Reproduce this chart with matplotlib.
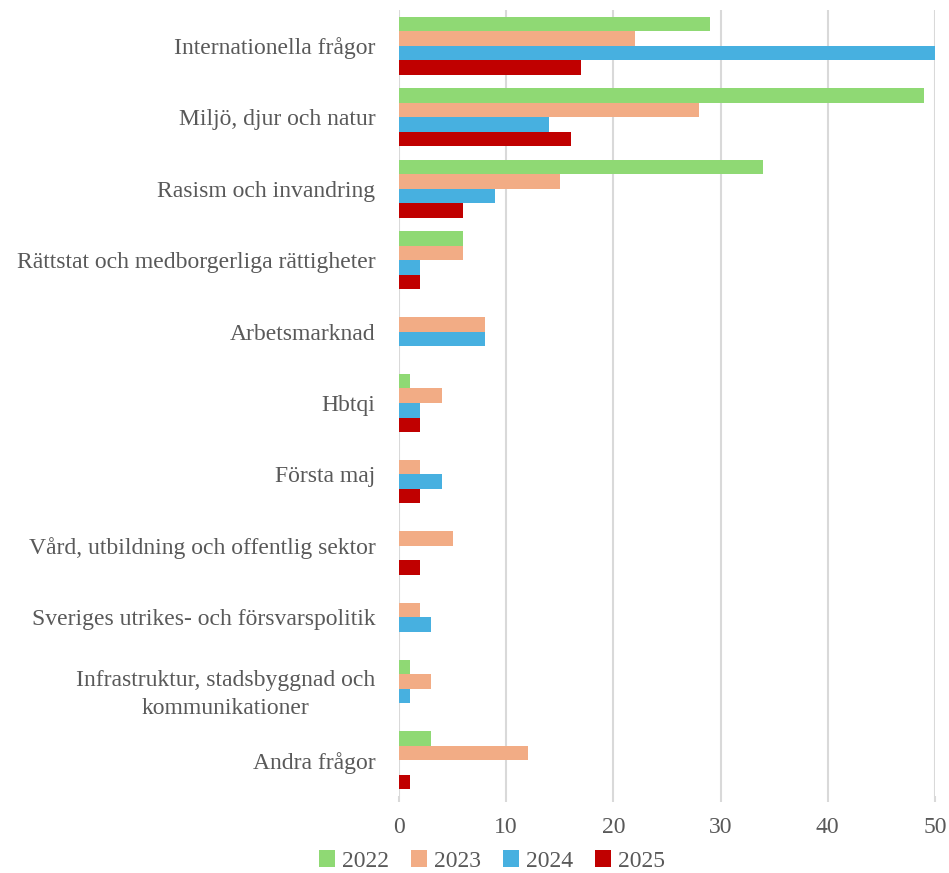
import matplotlib
matplotlib.use("Agg")
import matplotlib.pyplot as plt
import numpy as np

categories = [
    "Internationella frågor",
    "Miljö, djur och natur",
    "Rasism och invandring",
    "Rättstat och medborgerliga rättigheter",
    "Arbetsmarknad",
    "Hbtqi",
    "Första maj",
    "Vård, utbildning och offentlig sektor",
    "Sveriges utrikes- och försvarspolitik",
    "Infrastruktur, stadsbyggnad och\nkommunikationer",
    "Andra frågor",
]
series_names = ["2022", "2023", "2024", "2025"]
v2022 = [29, 49, 34, 6, 0, 1, 0, 0, 0, 1, 3]
v2023 = [22, 28, 15, 6, 8, 4, 2, 5, 2, 3, 12]
v2024 = [55, 14, 9, 2, 8, 2, 4, 0, 3, 1, 0]
v2025 = [17, 16, 6, 2, 0, 2, 2, 2, 0, 0, 1]
xticks = [0, 10, 20, 30, 40, 50]

colors = ["#8FD974", "#F2AC85", "#47B0E0", "#C00000"]
text_color = "#595959"
grid_color = "#D9D9D9"

plt.rcParams["font.family"] = ["Liberation Serif", "DejaVu Serif"]

fig = plt.figure(figsize=(9.49, 8.73), dpi=100)
ax = fig.add_axes([399 / 949, 1 - 796 / 873, (935 - 399) / 949, (796 - 10) / 873])

n = len(categories)
y = np.arange(n)
bh = 0.203
all_vals = [v2022, v2023, v2024, v2025]
for i, (vals, name, c) in enumerate(zip(all_vals, series_names, colors)):
    offs = (i - 1.5) * bh
    ax.barh(y + offs, vals, height=bh, color=c, label=name, zorder=3)

ax.set_xlim(0, 50)
ax.set_ylim(n - 0.5, -0.5)
ax.set_yticks(y)
ax.set_yticklabels(categories, fontsize=17, color=text_color, linespacing=1.4, ha="right", multialignment="center")
ax.set_xticks(xticks)
ax.set_xticklabels([str(t) for t in xticks], fontsize=17, color=text_color)
ax.tick_params(axis="y", length=0, pad=17)
ax.tick_params(axis="x", length=4, width=1.5, color=grid_color, pad=11)
for s in ax.spines.values():
    s.set_visible(False)
ax.grid(axis="x", color=grid_color, linewidth=1.5, zorder=0)
ax.set_axisbelow(True)

leg = fig.legend(loc="center", bbox_to_anchor=(492 / 949, 1 - 861 / 873), ncol=4, frameon=False,
                 fontsize=17, handlelength=0.7, handleheight=0.7, handletextpad=0.3,
                 columnspacing=0.9, labelcolor=text_color, borderpad=0)

fig.savefig("out.png", dpi=100)
